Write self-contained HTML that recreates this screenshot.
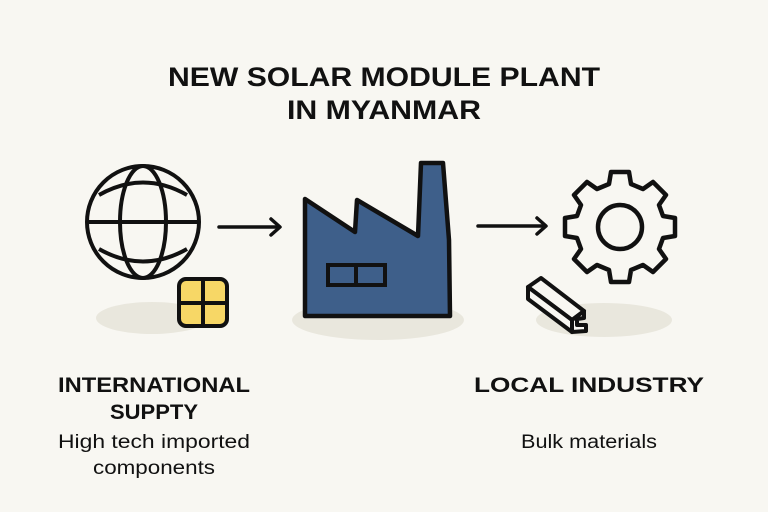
<!DOCTYPE html>
<html><head><meta charset="utf-8"><style>
html,body{margin:0;padding:0;background:#f8f7f2;}
svg{display:block}
text{font-family:"Liberation Sans",sans-serif;fill:#111;}
</style></head><body>
<svg width="768" height="512" viewBox="0 0 768 512" xmlns="http://www.w3.org/2000/svg">
<rect width="768" height="512" fill="#f8f7f2"/>
<text x="384" y="86" text-anchor="middle" font-size="27" font-weight="bold" textLength="432" lengthAdjust="spacingAndGlyphs">NEW SOLAR MODULE PLANT</text>
<text x="384" y="119" text-anchor="middle" font-size="27" font-weight="bold" textLength="194" lengthAdjust="spacingAndGlyphs">IN MYANMAR</text>
<ellipse cx="152" cy="318" rx="56" ry="16" fill="#e9e7dd"/>
<ellipse cx="378" cy="320" rx="86" ry="20" fill="#e9e7dd"/>
<ellipse cx="604" cy="320" rx="68" ry="17" fill="#e9e7dd"/>
<g fill="none" stroke="#111" stroke-width="4">
<circle cx="143" cy="222" r="56"/>
<ellipse cx="143" cy="222" rx="23" ry="56"/>
<line x1="87" y1="222" x2="199" y2="222"/>
<path d="M99 195 Q143 170 187 195"/>
<path d="M99 249 Q143 274 187 249"/>
</g>
<rect x="179" y="279" width="48" height="47" rx="7" fill="#f7d766" stroke="#111" stroke-width="4"/>
<line x1="203" y1="279" x2="203" y2="326" stroke="#111" stroke-width="4"/>
<line x1="179" y1="303" x2="227" y2="303" stroke="#111" stroke-width="4"/>
<g fill="none" stroke="#111" stroke-width="3.5" stroke-linecap="round" stroke-linejoin="round">
<line x1="219" y1="227" x2="279" y2="227"/><path d="M271 219 L280 227 L271 235"/>
<line x1="478" y1="226" x2="545" y2="226"/><path d="M537 218 L546 226 L537 234"/>
</g>
<path d="M305 199 L355 232 L357 200 L418 236 L421 163 L443 163 L449 240 L450 316 L305 316 Z" fill="#3e5f8a" stroke="#111" stroke-width="4.5" stroke-linejoin="round"/>
<rect x="328" y="265" width="57" height="20" fill="#3e5f8a" stroke="#111" stroke-width="4"/>
<line x1="356" y1="265" x2="356" y2="285" stroke="#111" stroke-width="4"/>
<g transform="translate(620,227)">
<path fill="#f8f7f2" stroke="#111" stroke-width="4.5" stroke-linejoin="round" d="
M -9 -55 L 9 -55 L 11 -43 L 23 -38 L 33 -45 L 46 -32 L 39 -22 L 43 -11 L 55 -9 L 55 9 L 43 11 L 39 22 L 46 32 L 33 45 L 23 38 L 11 43 L 9 55 L -9 55 L -11 43 L -23 38 L -33 45 L -46 32 L -39 22 L -43 11 L -55 9 L -55 -9 L -43 -11 L -39 -22 L -46 -32 L -33 -45 L -23 -38 L -11 -43 Z"/>
<circle r="22" fill="none" stroke="#111" stroke-width="4.5"/>
</g>
<g fill="#f8f7f2" stroke="#111" stroke-width="4" stroke-linejoin="round">
<path d="M528 287 L541 278 L584 311 L572 320 Z"/>
<path d="M528 287 L528 299 L572 332 L572 320 Z"/>
<path d="M572 320 L584 311 L584 318 L577 319 L577 325 L586 325 L586 331 L572 332 Z"/>
</g>
<text x="154" y="392" text-anchor="middle" font-size="21" font-weight="bold" textLength="192" lengthAdjust="spacingAndGlyphs">INTERNATIONAL</text>
<text x="154" y="419" text-anchor="middle" font-size="21" font-weight="bold" textLength="88" lengthAdjust="spacingAndGlyphs">SUPPTY</text>
<text x="154" y="448" text-anchor="middle" font-size="19" textLength="192" lengthAdjust="spacingAndGlyphs">High tech imported</text>
<text x="154" y="474" text-anchor="middle" font-size="19" textLength="122" lengthAdjust="spacingAndGlyphs">components</text>
<text x="589" y="392" text-anchor="middle" font-size="21" font-weight="bold" textLength="230" lengthAdjust="spacingAndGlyphs">LOCAL INDUSTRY</text>
<text x="589" y="448" text-anchor="middle" font-size="19" textLength="136" lengthAdjust="spacingAndGlyphs">Bulk materials</text>
</svg>
</body></html>
